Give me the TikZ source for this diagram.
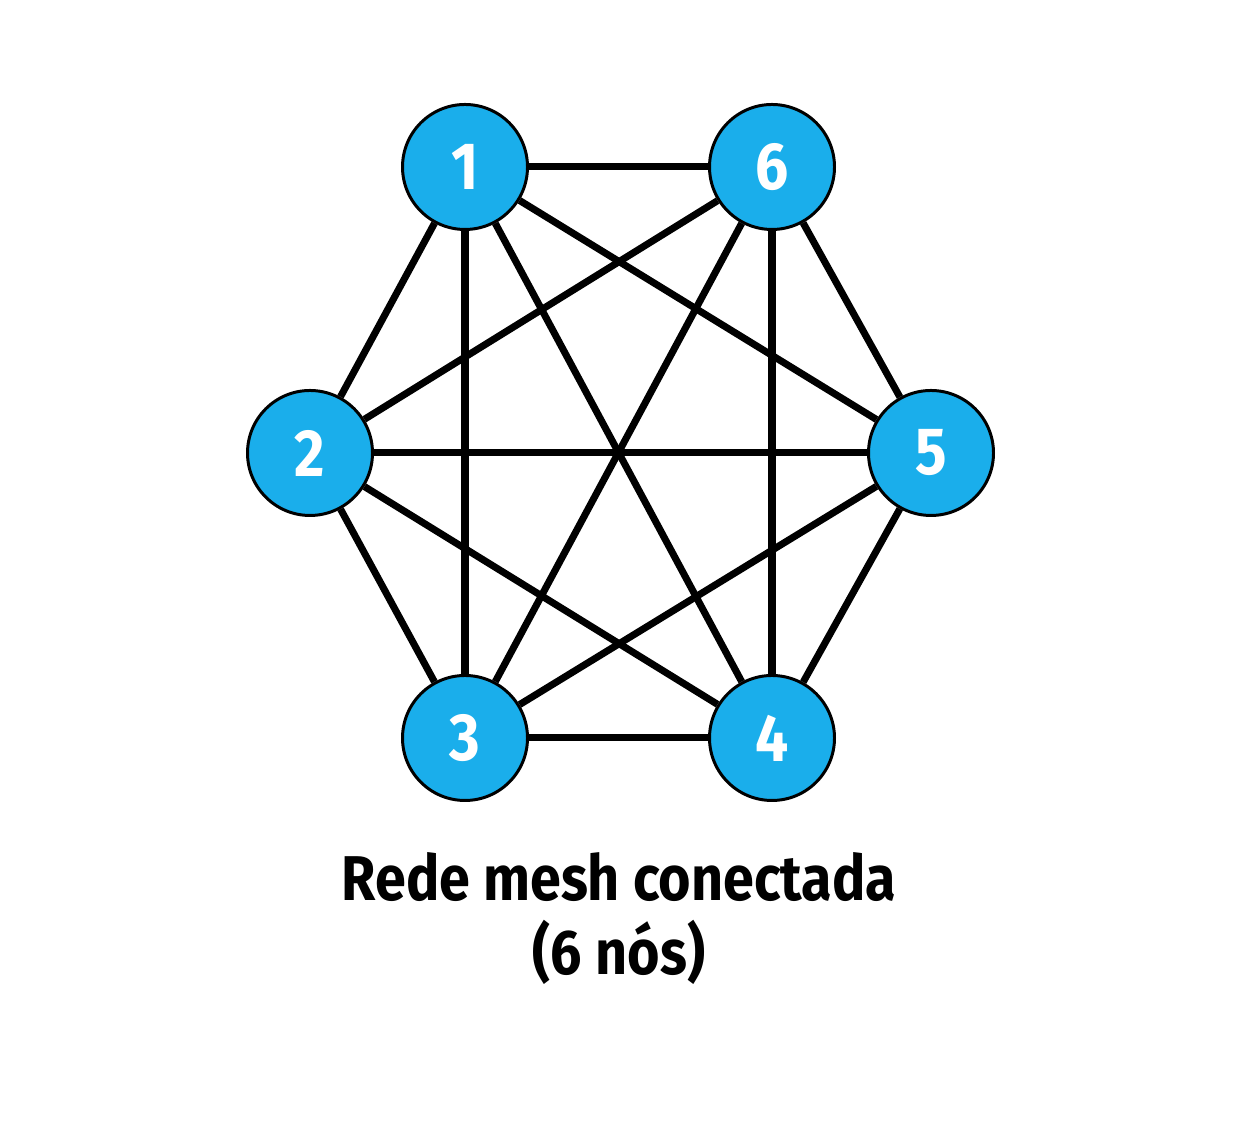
\documentclass[tikz,border=0pt]{standalone}
\usepackage{fontspec}
\setmainfont{Fira Sans}[FakeStretch=0.88]
\usepackage{tikz}
\usetikzlibrary{backgrounds}
\definecolor{meshblue}{HTML}{1AAEEB}
\tikzset{
    mnode/.style={circle,draw=black,line width=1.7pt,fill=meshblue,minimum size=2.5cm,inner sep=0pt,
        text=white,font=\fontsize{38}{40}\selectfont\bfseries},
    caption/.style={rectangle,draw=none,fill=none,minimum size=0pt,inner sep=0pt,
        text=black,font=\fontsize{36}{40}\selectfont\bfseries},
    mesh/.style={
        every node/.style=mnode,
        every edge/.style={draw,line width=4pt},
    }
}
\begin{document}
\begin{tikzpicture}[mesh]
\useasboundingbox (0,0) rectangle (24.82,22.5);
\node (n1) at (9.30,19.16) {1};
\node (n6) at (15.44,19.16) {6};
\node (n2) at (6.20,13.44) {2};
\node (n5) at (18.62,13.44) {5};
\node (n3) at (9.30,7.74) {3};
\node (n4) at (15.44,7.74) {4};
\node[caption] (title) at (12.38,4.96) {Rede mesh conectada};
\node[caption] (sub) at (12.38,3.46) {(6 nós)};
% every pair of nodes is linked
\scoped[on background layer]{
\path
    (n1) edge (n6)
    (n1) edge (n2)
    (n1) edge (n3)
    (n1) edge (n4)
    (n1) edge (n5)
    (n6) edge (n2)
    (n6) edge (n3)
    (n6) edge (n4)
    (n6) edge (n5)
    (n2) edge (n5)
    (n2) edge (n3)
    (n2) edge (n4)
    (n5) edge (n3)
    (n5) edge (n4)
    (n3) edge (n4)
;
}
\end{tikzpicture}
\end{document}
